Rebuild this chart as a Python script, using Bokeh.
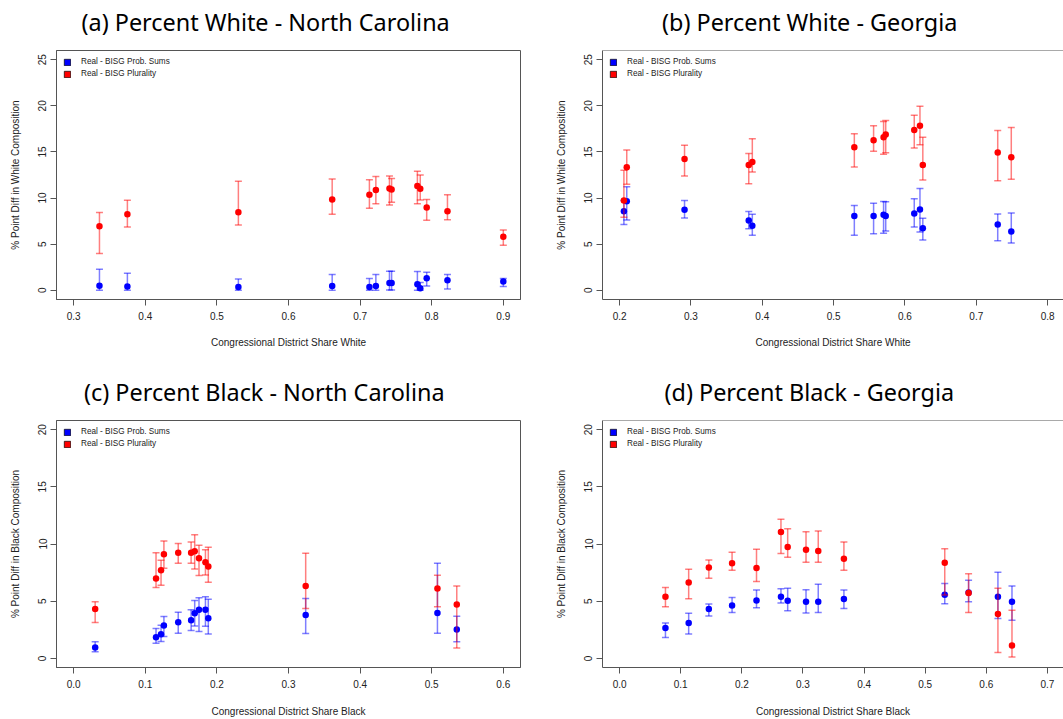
import math
from bokeh.plotting import figure
from bokeh.layouts import column, row
from bokeh.models import (Range1d, FixedTicker, PrintfTickFormatter, Legend, LegendItem,
                          Title, Span)
from bokeh.embed import file_html
from bokeh.resources import INLINE

# ---------------- data ----------------
# (a) Percent White - North Carolina
nc_w_x = [0.336, 0.375, 0.530, 0.661, 0.713, 0.722, 0.741, 0.744, 0.780, 0.784, 0.793, 0.822, 0.900]
nc_w_red = [6.94, 8.25, 8.46, 9.85, 10.35, 10.86, 11.04, 10.94, 11.30, 11.01, 8.97, 8.57, 5.81]
nc_w_red_hi = [8.43, 9.77, 11.81, 12.06, 11.99, 12.35, 12.39, 12.13, 12.90, 12.50, 9.85, 10.35, 6.54]
nc_w_red_lo = [3.99, 6.87, 7.08, 8.25, 8.90, 9.37, 9.26, 9.55, 9.37, 9.80, 7.59, 7.66, 4.87]
nc_w_blue = [0.50, 0.40, 0.36, 0.47, 0.36, 0.47, 0.80, 0.80, 0.65, 0.21, 1.30, 1.09, 0.94]
nc_w_blue_hi = [2.29, 1.85, 1.23, 1.70, 1.27, 1.70, 2.07, 2.07, 2.03, 0.83, 1.96, 1.70, 1.27]
nc_w_blue_lo = [0.00, 0.00, 0.00, 0.00, 0.00, 0.00, 0.03, 0.03, 0.00, 0.00, 0.47, 0.14, 0.40]

# (b) Percent White - Georgia
ga_w_x = [0.206, 0.210, 0.291, 0.381, 0.386, 0.529, 0.556, 0.570, 0.573, 0.613, 0.621, 0.625, 0.730, 0.749]
ga_w_red = [9.74, 13.33, 14.24, 13.59, 13.92, 15.51, 16.28, 16.60, 16.90, 17.37, 17.84, 13.59, 14.94, 14.42]
ga_w_red_hi = [13.01, 15.22, 15.73, 14.82, 16.42, 16.97, 17.84, 18.31, 18.42, 18.97, 19.95, 16.60, 17.33, 17.66]
ga_w_red_lo = [7.92, 11.50, 12.39, 11.55, 12.82, 13.37, 15.08, 14.75, 14.90, 15.44, 15.77, 11.95, 11.88, 12.03]
ga_w_blue = [8.57, 9.66, 8.72, 7.56, 7.01, 8.06, 8.06, 8.18, 8.06, 8.32, 8.75, 6.72, 7.12, 6.36]
ga_w_blue_hi = [9.74, 11.23, 9.74, 8.54, 8.25, 9.19, 9.45, 9.63, 9.59, 9.92, 11.04, 7.81, 8.28, 8.39]
ga_w_blue_lo = [7.12, 7.63, 7.85, 6.68, 5.96, 5.96, 6.14, 6.18, 6.43, 6.87, 6.32, 5.45, 5.38, 5.12]

# (c) Percent Black - North Carolina
nc_b_x = [0.030, 0.115, 0.122, 0.126, 0.146, 0.164, 0.169, 0.175, 0.184, 0.188, 0.324, 0.508, 0.535]
nc_b_red = [4.32, 6.98, 7.71, 9.10, 9.24, 9.24, 9.36, 8.75, 8.40, 8.03, 6.32, 6.11, 4.72]
nc_b_red_hi = [4.95, 9.24, 8.58, 10.26, 10.05, 10.17, 10.81, 9.88, 9.50, 9.71, 9.19, 7.27, 6.32]
nc_b_red_lo = [3.13, 6.20, 6.40, 7.88, 8.32, 8.32, 7.82, 7.24, 7.30, 6.66, 4.35, 4.52, 0.90]
nc_b_blue = [0.95, 1.85, 2.11, 2.87, 3.16, 3.33, 3.94, 4.26, 4.26, 3.50, 3.79, 3.97, 2.52]
nc_b_blue_hi = [1.45, 2.61, 2.90, 3.65, 4.03, 4.26, 5.07, 5.30, 5.39, 5.16, 5.24, 8.32, 3.68]
nc_b_blue_lo = [0.58, 1.33, 1.48, 1.91, 2.20, 2.43, 2.84, 2.35, 2.81, 2.14, 2.17, 2.20, 1.45]

# (d) Percent Black - Georgia
ga_b_x = [0.075, 0.113, 0.146, 0.184, 0.224, 0.264, 0.275, 0.305, 0.325, 0.367, 0.532, 0.571, 0.619, 0.642]
ga_b_red = [5.39, 6.63, 7.94, 8.32, 7.91, 11.04, 9.74, 9.50, 9.39, 8.72, 8.37, 5.71, 3.88, 1.13]
ga_b_red_hi = [6.20, 7.79, 8.61, 9.27, 9.53, 12.17, 11.33, 11.07, 11.13, 10.17, 9.59, 7.39, 6.14, 4.20]
ga_b_red_lo = [4.52, 5.22, 7.01, 7.71, 6.72, 9.16, 8.84, 8.40, 8.40, 7.71, 5.53, 4.00, 0.52, 0.11]
ga_b_blue = [2.66, 3.10, 4.32, 4.63, 5.07, 5.39, 5.04, 4.95, 4.95, 5.19, 5.56, 5.75, 5.39, 4.95]
ga_b_blue_hi = [3.10, 3.94, 4.75, 5.33, 5.97, 6.08, 6.14, 6.00, 6.49, 5.97, 6.55, 6.84, 7.53, 6.32]
ga_b_blue_lo = [1.82, 2.14, 3.71, 4.00, 4.43, 4.84, 4.17, 3.97, 4.00, 4.35, 4.78, 4.95, 3.48, 3.33]

titles = ["(a) Percent White - North Carolina", "(b) Percent White - Georgia",
          "(c) Percent Black - North Carolina", "(d) Percent Black - Georgia"]
legend_labels = ["Real - BISG Prob. Sums", "Real - BISG Plurality"]
x_labels = ["Congressional District Share White", "Congressional District Share Black"]
y_labels = ["% Point Diff in White Composition", "% Point Diff in Black Composition"]

ticks_x_a = [0.3, 0.4, 0.5, 0.6, 0.7, 0.8, 0.9]
ticks_x_b = [0.2, 0.3, 0.4, 0.5, 0.6, 0.7, 0.8]
ticks_x_c = [0.0, 0.1, 0.2, 0.3, 0.4, 0.5, 0.6]
ticks_x_d = [0.0, 0.1, 0.2, 0.3, 0.4, 0.5, 0.6, 0.7]
ticks_y_white = [0, 5, 10, 15, 20, 25]
ticks_y_black = [0, 5, 10, 15, 20]

# ---------------- styling ----------------
AX_FONT = "Liberation Sans"
LINE = "#555555"
TXT = "#222222"
BLUE = "#0000ff"
RED = "#ff0000"
NAN = [math.nan]


def style_axis(ax, ticks, fmt, standoff, label_standoff, vertical=False):
    ax.ticker = FixedTicker(ticks=ticks)
    ax.formatter = PrintfTickFormatter(format=fmt)
    ax.major_tick_out = 6
    ax.major_tick_in = 0
    ax.minor_tick_line_color = None
    ax.major_tick_line_color = LINE
    ax.axis_line_color = LINE
    ax.major_label_standoff = standoff
    ax.axis_label_standoff = label_standoff
    ax.major_label_text_font = AX_FONT
    ax.major_label_text_font_size = "10px"
    ax.major_label_text_color = TXT
    ax.axis_label_text_font = AX_FONT
    ax.axis_label_text_font_size = "10px"
    ax.axis_label_text_font_style = "normal"
    ax.axis_label_text_color = TXT
    if vertical:
        ax.major_label_orientation = "vertical"


def errbars(p, xs, lo, hi, color):
    p.segment(x0=xs, y0=lo, x1=xs, y1=hi, line_color=color, line_alpha=0.5, line_width=1.5)
    p.scatter(x=xs, y=lo, marker="dash", size=7, line_color=color, line_alpha=0.5, line_width=1.5)
    p.scatter(x=xs, y=hi, marker="dash", size=7, line_color=color, line_alpha=0.5, line_width=1.5)


def make_panel(title, title_offset, xs, blue, blue_lo, blue_hi, red, red_lo, red_hi,
               xr, yr, xticks, yticks, xlabel, ylabel, width, height, min_left, min_right,
               bottom_border, xlab_standoff, open_right):
    p = figure(width=width, height=height, x_range=Range1d(*xr), y_range=Range1d(*yr),
               output_backend="svg", toolbar_location=None,
               min_border_left=min_left, min_border_right=min_right, min_border_top=50,
               min_border_bottom=bottom_border,
               x_axis_label=xlabel, y_axis_label=ylabel)
    # spacer (closest to the frame) then the visible title above it
    p.add_layout(Title(text=" ", text_font_size="2px", standoff=9), "above")
    p.add_layout(Title(text=title, align="left", offset=title_offset, standoff=0,
                       text_font="Noto Sans", text_font_size="23.4px", text_font_style="normal",
                       text_color="black"), "above")
    p.grid.visible = False
    p.background_fill_color = "white"
    p.border_fill_color = "white"
    if open_right:
        p.outline_line_color = None
        p.add_layout(Span(location=yr[1], dimension="width", line_color=LINE, line_width=1))
    else:
        p.outline_line_color = LINE
        p.outline_line_alpha = 1.0
        p.outline_line_width = 1

    style_axis(p.below[0], xticks, "%.1f", 6, xlab_standoff)
    style_axis(p.left[0], yticks, "%d", 4, 15, vertical=True)

    # blue series then red series
    errbars(p, xs, blue_lo, blue_hi, BLUE)
    p.scatter(x=xs, y=blue, marker="circle", size=6.5, fill_color=BLUE, line_color=None)
    errbars(p, xs, red_lo, red_hi, RED)
    p.scatter(x=xs, y=red, marker="circle", size=6.5, fill_color=RED, line_color=None)

    # legend (square keys)
    rb = p.quad(left=NAN, right=NAN, top=NAN, bottom=NAN, fill_color=BLUE, line_color="black", line_width=0.7)
    rr = p.quad(left=NAN, right=NAN, top=NAN, bottom=NAN, fill_color=RED, line_color="black", line_width=0.7)
    leg = Legend(items=[LegendItem(label=legend_labels[0], renderers=[rb]),
                        LegendItem(label=legend_labels[1], renderers=[rr])],
                 location="top_left", margin=7, padding=0, spacing=3,
                 glyph_width=8, glyph_height=8, label_height=8, label_standoff=10,
                 border_line_color=None, background_fill_alpha=0,
                 label_text_font=AX_FONT, label_text_font_size="8.2px", label_text_color=TXT)
    p.add_layout(leg)
    return p


pa = make_panel(titles[0], 25.0, nc_w_x, nc_w_blue, nc_w_blue_lo, nc_w_blue_hi,
                nc_w_red, nc_w_red_lo, nc_w_red_hi,
                (0.276, 0.924), (-1.0, 26.0), ticks_x_a, ticks_y_white,
                x_labels[0], y_labels[0], 552, 370, 56, 32, 71, 14, False)
pb = make_panel(titles[1], 59.5, ga_w_x, ga_w_blue, ga_w_blue_lo, ga_w_blue_hi,
                ga_w_red, ga_w_red_lo, ga_w_red_hi,
                (0.176, 0.8222), (-1.0, 26.0), ticks_x_b, ticks_y_white,
                x_labels[0], y_labels[0], 511, 370, 48, 0, 71, 14, True)
pc = make_panel(titles[2], 27.5, nc_b_x, nc_b_blue, nc_b_blue_lo, nc_b_blue_hi,
                nc_b_red, nc_b_red_lo, nc_b_red_hi,
                (-0.024, 0.624), (-0.8, 20.8), ticks_x_c, ticks_y_black,
                x_labels[1], y_labels[1], 552, 349, 56, 32, 50, 15, False)
pd_ = make_panel(titles[3], 62.0, ga_b_x, ga_b_blue, ga_b_blue_lo, ga_b_blue_hi,
                 ga_b_red, ga_b_red_lo, ga_b_red_hi,
                 (-0.028, 0.7263), (-0.8, 20.8), ticks_x_d, ticks_y_black,
                 x_labels[1], y_labels[1], 511, 349, 48, 0, 50, 15, True)

layout = column(row(pa, pb), row(pc, pd_))
open("out.html", "w").write(file_html(layout, INLINE))
